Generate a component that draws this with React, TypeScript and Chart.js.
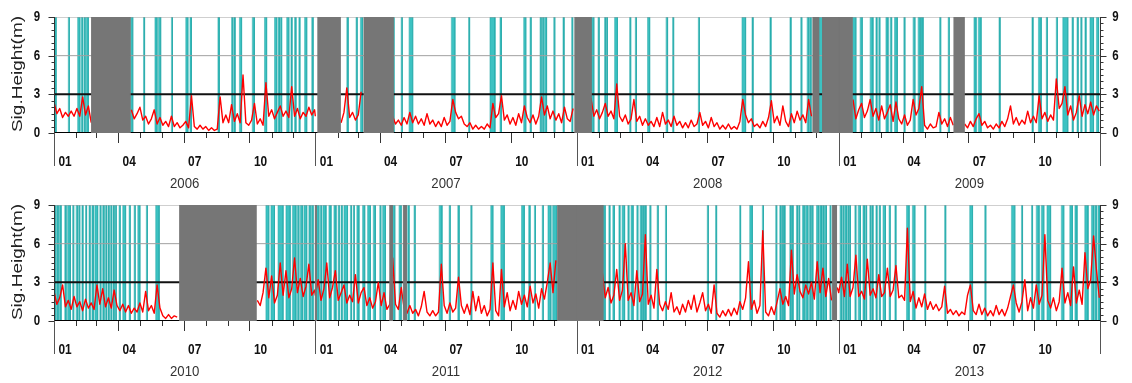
import React, { useEffect, useRef } from "react";
import { Chart, registerables } from "chart.js";

Chart.register(...registerables);

// ---------------- data ----------------
const STEP_DAYS = 4; // readings every 4 days, starting Jan 1 of each year
const Y_MAX = 9;
const yTicks = [0, 3, 6, 9];
const monthLabels = ["01", "04", "07", "10"];
const labelledMonths = [0, 3, 6, 9];
const yTitle = "Sig.Height(m)";
const topYears = [2006, 2007, 2008, 2009];
const bottomYears = [2010, 2011, 2012, 2013];

const _ = null;

const wave2006 = [
  2.4, 1.5, 1.9, 1.2, 1.6, 1.3, 1.7, 1.3, 1.9, 1.3,
  2.8, 1.4, 2.1, 0.8, _, _, _, _, _, _,
  _, _, _, _, _, _, _, 1.8, 1.1, 1.5,
  2.0, 1.0, 1.3, 0.7, 1.1, 1.8, 0.7, 1.2, 0.6, 0.9,
  0.5, 1.3, 0.5, 0.8, 0.4, 0.6, 0.9, 0.4, 2.9, 0.5,
  0.3, 0.6, 0.3, 0.5, 0.2, 0.4, 0.2, 0.3, 2.8, 0.8,
  1.4, 0.8, 2.2, 0.9, 1.5, 0.8, 4.5, 0.8, 0.6, 1.0,
  2.3, 0.7, 1.1, 0.6, 3.9, 1.3, 1.8, 1.1, 1.6, 2.1,
  1.3, 1.7, 1.2, 3.6, 1.3, 1.9, 1.1, 1.6, 1.3, 2.0,
  1.4, 1.8,
];
const wave2007 = [
  1.3, _, _, _, _, _, _, _, _, 0.8,
  1.6, 3.5, 1.2, 1.6, 1.0, 1.4, 3.2, _, _, _,
  _, _, _, _, _, _, _, 1.3, 0.7, 1.0,
  0.6, 1.2, 0.7, 1.6, 0.8, 1.3, 0.7, 1.1, 0.6, 1.5,
  0.7, 1.0, 0.5, 0.9, 0.5, 1.2, 0.6, 0.9, 2.6, 1.6,
  1.1, 1.3, 0.7, 0.5, 0.8, 0.3, 0.6, 0.3, 0.5, 0.3,
  0.7, 0.4, 2.3, 1.2, 1.5, 2.9, 1.0, 1.4, 0.7, 1.2,
  0.6, 1.5, 0.8, 2.1, 1.2, 0.8, 1.4, 0.7, 1.3, 2.8,
  1.4, 2.1, 1.1, 1.7, 1.0, 1.5, 0.8, 2.0, 1.1, 0.9,
  1.9, _,
];
const wave2008 = [
  _, _, _, _, _, 2.7, 1.3, 1.8, 1.1, 1.6,
  2.3, 1.3, 1.7, 1.1, 3.8, 1.3, 0.9, 1.4, 0.7, 1.1,
  2.6, 0.9, 1.3, 0.6, 1.1, 0.6, 0.9, 0.5, 1.2, 0.5,
  1.6, 0.7, 1.0, 0.5, 1.3, 0.6, 0.9, 0.4, 0.8, 0.4,
  1.0, 0.5, 0.7, 1.6, 0.6, 0.9, 0.4, 1.2, 0.5, 0.8,
  0.3, 0.6, 0.3, 0.7, 0.3, 0.5, 0.3, 0.9, 2.6, 1.4,
  0.8, 1.1, 0.5, 0.7, 0.4, 0.9, 0.5, 1.2, 2.5, 0.8,
  1.3, 0.6, 2.1, 0.9, 0.5, 1.5, 0.8, 1.7, 1.0, 1.4,
  0.8, 2.6, 1.3, _, _, _, _, _, _, _,
  _, _,
];
const wave2009 = [
  _, _, _, _, _, 2.6, 1.1, 1.8, 2.3, 1.2,
  1.7, 2.6, 1.3, 1.9, 1.0, 2.1, 1.1, 1.6, 2.2, 0.9,
  2.4, 1.1, 0.7, 1.4, 0.6, 1.0, 2.6, 1.4, 1.9, 3.6,
  0.6, 0.3, 0.7, 0.4, 0.5, 1.6, 0.7, 1.1, 0.5, 1.2,
  0.6, _, _, _, 0.7, 0.4, 0.9, 0.5, 1.1, 1.5,
  0.6, 0.9, 0.4, 0.6, 0.3, 0.7, 0.4, 0.9, 0.5, 1.1,
  2.1, 0.7, 1.2, 0.6, 1.0, 0.7, 1.7, 0.8, 1.3, 0.8,
  2.9, 1.1, 1.6, 0.9, 1.4, 1.0, 4.2, 1.9, 2.3, 3.6,
  1.4, 2.1, 1.0, 1.6, 2.9, 1.3, 2.2, 1.5, 2.4, 1.4,
  2.1, 1.7,
];
const wave2010 = [
  2.3, 1.3, 1.8, 2.8, 1.1, 1.6, 0.9, 1.9, 1.1, 1.5,
  0.8, 1.7, 1.0, 1.4, 0.9, 2.8, 1.3, 2.5, 1.1, 1.8,
  1.0, 2.4, 1.2, 0.8, 1.3, 0.7, 1.2, 0.6, 1.0, 0.7,
  1.4, 0.7, 2.3, 0.8, 1.2, 0.6, 2.8, 1.0, 0.4, 0.2,
  0.5, 0.2, 0.4, 0.3, _, _, _, _, _, _,
  _, _, _, _, _, _, _, _, _, _,
  _, _, _, _, _, _, _, _, _, _,
  _, 1.6, 1.2, 2.2, 4.1, 1.8, 3.5, 1.4, 2.0, 4.5,
  2.0, 3.9, 1.8, 2.5, 4.9, 2.2, 3.3, 1.9, 2.7, 4.4,
  2.0, 2.4,
];
const wave2011 = [
  2.0, 3.2, 1.6, 2.5, 4.5, 1.8, 2.6, 3.9, 1.6, 2.2,
  2.8, 1.4, 2.0, 1.5, 3.6, 1.4, 2.2, 2.6, 1.2, 1.8,
  1.0, 1.5, 3.0, 1.2, 2.2, 0.9, 1.3, 4.9, 1.3, 0.9,
  2.6, 1.0, 0.6, 1.2, 0.6, 0.9, 0.4, 1.1, 2.3, 0.7,
  0.4, 0.8, 0.4, 0.7, 4.4, 1.2, 0.6, 1.4, 0.7, 1.0,
  3.4, 1.2, 0.6, 1.3, 0.5, 2.3, 0.8, 1.9, 0.6, 1.2,
  0.4, 0.9, 4.5, 0.8, 0.4, 4.0, 1.1, 2.2, 0.8, 1.6,
  0.9, 2.3, 1.3, 2.0, 1.1, 2.7, 1.4, 2.1, 1.0, 2.5,
  1.7, 3.0, 4.5, 2.2, 4.7, _, _, _, _, _,
  _, _,
];
const wave2012 = [
  _, _, _, _, _, _, _, _, _, 3.7,
  1.8, 2.6, 1.4, 2.0, 4.0, 1.6, 2.4, 6.0, 1.6, 2.2,
  1.2, 3.9, 1.5, 2.1, 6.7, 1.3, 2.0, 1.0, 4.0, 1.3,
  0.8, 1.5, 0.9, 2.2, 0.7, 1.1, 0.5, 1.3, 0.7, 1.6,
  0.9, 2.0, 0.7, 1.4, 2.2, 0.8, 1.3, 0.6, 2.8, 0.6,
  0.3, 0.8, 0.4, 0.9, 0.4, 1.0, 0.5, 1.5, 0.9, 1.8,
  4.6, 0.9, 1.6, 0.6, 1.2, 7.0, 0.7, 0.4, 1.1, 0.5,
  1.5, 2.5, 1.3, 1.9, 1.2, 5.5, 2.1, 3.6, 2.3, 1.8,
  2.8, 2.1, 3.0, 1.7, 4.6, 2.2, 4.1, 1.9, 3.3, 1.6,
  _, 2.6,
];
const wave2013 = [
  2.2, 3.4, 1.9, 4.4, 1.9, 2.6, 5.1, 1.9, 2.3, 1.7,
  4.8, 2.0, 2.5, 1.8, 3.6, 1.9, 2.2, 4.1, 1.9, 2.4,
  4.3, 1.8, 2.0, 1.6, 7.2, 1.5, 2.3, 1.0, 1.8, 1.1,
  2.1, 0.9, 1.5, 0.9, 1.3, 0.8, 1.1, 2.7, 0.6, 0.9,
  0.5, 0.8, 0.4, 0.7, 0.5, 2.0, 2.8, 0.8, 0.5, 1.3,
  0.5, 1.0, 0.4, 0.8, 0.4, 1.2, 0.5, 0.9, 0.4, 1.0,
  1.9, 2.8, 1.4, 0.7, 1.5, 3.2, 0.8, 1.8, 1.0, 2.8,
  1.3, 2.0, 6.7, 1.6, 1.0, 1.8, 0.8, 1.5, 4.1, 1.4,
  2.2, 1.2, 4.2, 1.4, 2.4, 1.3, 5.3, 2.5, 3.2, 6.6,
  4.0, 1.8,
];

// flagged days (day-of-year ranges)
const cyan2006 = [[0,3],[20,21.5],[33,36],[38,40],[42,43.5],[45,48],[107,110],[125,126.5],[141,144],[146,149],[164,165.5],[184,187],[190,192],[229,231],[248,249.5],[251,253],[259,262],[277,280],[294,297],[308,311],[313,315],[316,318],[325,328],[331,332.5],[336,338],[342,343.5],[350,353],[360,362]];
const cyan2007 = [[44,46],[57,58.5],[63,66],[108,110],[120,121.5],[131,136],[190,195],[214,215.5],[244,251],[258,260],[291,294],[300,301.5],[314,315.5],[317,318.5],[320,323],[333,334.5],[346,347.5],[358,359.5]];
const cyan2008 = [[20,24],[30,31.5],[39,40.5],[41.5,43],[53,57],[74,75.5],[82,83.5],[99,102],[125,127],[134,135.5],[170,171.5],[231,236],[245,246.5],[270,271.5],[298,299.5],[313,314.5],[322,324],[325,327.5],[338,343.5]];
const cyan2009 = [[19,24],[30,33],[44,48],[52,53.5],[56,57.5],[66,69],[72,74],[78,82],[91,92.5],[104,106.5],[111,114],[115,118],[141,142.5],[153,154.5],[189,192],[195,199],[224,225.5],[270,271.5],[279,283],[290,291.5],[304,305.5],[313,320],[326,327.5],[333,334.5],[338,339.5],[344,345.5],[351,356],[360,363]];
const cyan2010 = [[0,2.5],[4,6],[7.5,10],[15,17],[19,23],[26,27.5],[31,33],[34.5,36],[39,40.5],[44,45.5],[49,50.5],[53,55],[57,61],[64,65.5],[68,70],[72,73.5],[75.5,77],[79,80.5],[82.5,84],[85.5,87],[91,92.5],[96,100],[105,106.5],[112,113.5],[117,120],[129,130.5],[142,147],[296,300],[303,308],[313,320],[324,330],[333,338],[340,342],[344,347],[349,353],[356,358],[359.5,362]];
const cyan2011 = [[2,5],[7,8.5],[10.5,15],[19,22],[26,29],[32,33.5],[36,37.5],[40,45],[49,50.5],[53,54.5],[58,61],[66,69],[73,77],[81,84],[90,91.5],[94,98],[107,111],[117,120],[129,131],[138,139.5],[173,177],[187,188.5],[199,201],[217,218.5],[245,248],[259,264],[288,292],[298,300],[306,307.5],[317,318.5],[325,329],[331.5,337]];
const cyan2012 = [[36.5,40],[45,46.5],[50.5,52.8],[59,60.5],[63.5,67],[71.5,73],[76,79],[84,85.5],[88.7,91],[92,94],[95,97],[102,103.5],[112.5,114],[124,125.5],[182.5,184],[194,195.5],[227.7,229],[241.7,245.5],[259.4,261],[278,279.5],[283.7,285.5],[287,288.5],[289.5,291],[297.7,299.5],[300.5,302.4],[307,308.5],[310,311.5],[315.4,318],[319.5,323],[325,327],[328,330],[335,338],[339.5,342],[343,345.5],[347,349],[353.7,355]];
const cyan2013 = [[2,4],[5.5,7],[8.5,11],[12.5,14],[15,16.5],[22.6,24],[27.3,30.5],[34,36],[37.5,39],[43.5,45],[46.5,48],[52,53.5],[56.6,58],[62,65.4],[70.5,72],[78.5,80],[94.7,98.5],[103,106.4],[120,121.5],[148,149.5],[183,187],[204,205.5],[241.3,246],[255.3,256.8],[269.3,270.8],[276,280],[283,286.5],[291,296],[311,314.4],[322.8,326.5],[330,333],[343.7,348.4],[353,356],[357.5,360],[362,365]];

// missing-data periods (day-of-year ranges)
const gray2006 = [[52.5,106]];
const gray2007 = [[3.5,34.5],[68,108.5],[362.5,365]];
const gray2008 = [[0,20],[330,338],[343.5,366]];
const gray2009 = [[0,18.5],[161,175]];
const gray2010 = [[175.5,282]];
const gray2011 = [[0,1.2],[104,107.5],[123,127],[338.5,365]];
const gray2012 = [[0,36.5],[357.5,363]];
const gray2013: number[][] = [];

// ---------------- helpers ----------------
const isLeap = (y: number) => (y % 4 === 0 && y % 100 !== 0) || y % 400 === 0;
const daysInYear = (y: number) => (isLeap(y) ? 366 : 365);
const monthLengths = (y: number) => [31, isLeap(y) ? 29 : 28, 31, 30, 31, 30, 31, 31, 30, 31, 30, 31];

const FONT = '"Liberation Sans", Arial, Helvetica, sans-serif';

function rectPoints(ranges: number[][][], offsets: number[]) {
  const pts: any[] = [];
  ranges.forEach((list, k) =>
    list.forEach(([a, b]) => {
      const o = offsets[k];
      pts.push({ x: o + a, y: 0 }, { x: o + a, y: Y_MAX }, { x: o + b, y: Y_MAX }, { x: o + b, y: 0 }, { x: o + b, y: null });
    })
  );
  return pts;
}

const decorPlugin = {
  id: "decor",
  afterDraw(chart: any, _args: any, opts: any) {
    const { ctx, chartArea: ca } = chart;
    const xs = chart.scales.x;
    const ys = chart.scales.y;
    const yTop = ys.getPixelForValue(Y_MAX);
    const y0 = ys.getPixelForValue(0);
    const px = (v: number) => Math.round(v) + 0.5;
    const seg = (x1: number, y1: number, x2: number, y2: number) => {
      ctx.beginPath();
      ctx.moveTo(x1, y1);
      ctx.lineTo(x2, y2);
      ctx.stroke();
    };
    const text = (s: string, x: number, y: number, font: string, sx: number, color: string) => {
      ctx.save();
      ctx.translate(x, y);
      ctx.scale(sx, 1);
      ctx.font = font;
      ctx.fillStyle = color;
      ctx.textAlign = "center";
      ctx.textBaseline = "middle";
      ctx.fillText(s, 0, 0);
      ctx.restore();
    };
    ctx.save();
    ctx.lineWidth = 1;
    ctx.strokeStyle = "#333";
    const xl = px(xs.getPixelForValue(0));
    const xr = px(xs.getPixelForValue(opts.total));
    seg(xl, yTop, xl, y0);
    seg(xr, yTop, xr, y0);
    for (let v = 0; v <= Y_MAX + 1e-9; v += 0.5) {
      const y = px(ys.getPixelForValue(v));
      const len = yTicks.includes(v) ? 6 : 3;
      seg(xl - len, y, xl, y);
      seg(xr, y, xr + len, y);
    }
    // month / year ticks
    opts.years.forEach((yr: number, k: number) => {
      const o = opts.offsets[k];
      let d = 0;
      monthLengths(yr).forEach((len, m) => {
        const x = px(xs.getPixelForValue(o + d));
        if (m === 0) {
          ctx.strokeStyle = "#555";
          seg(x, y0, x, y0 + 33);
          ctx.strokeStyle = "#333";
        } else {
          seg(x, y0, x, y0 + (m % 3 === 0 ? 10 : 5));
        }
        d += len;
      });
    });
    ctx.strokeStyle = "#555";
    seg(xr, y0, xr, y0 + 33);

    // y tick labels
    yTicks.forEach((v) => {
      const y = ys.getPixelForValue(v);
      text(String(v), ca.left - 17, y, `bold 14px ${FONT}`, 0.82, "#111");
      text(String(v), ca.right + 15.5, y, `bold 14px ${FONT}`, 0.82, "#111");
    });
    // month + year labels
    opts.years.forEach((yr: number, k: number) => {
      const o = opts.offsets[k];
      const ml = monthLengths(yr);
      labelledMonths.forEach((m, j) => {
        let d = 0;
        for (let i = 0; i < m; i++) d += ml[i];
        const x = xs.getPixelForValue(o + d + ml[m] / 2);
        text(monthLabels[j], x, y0 + 29, `bold 14px ${FONT}`, 0.85, "#111");
      });
      const xm = xs.getPixelForValue(o + daysInYear(yr) / 2);
      text(String(yr), xm, y0 + 51, `15px ${FONT}`, 0.88, "#333");
    });
    // axis title
    ctx.save();
    ctx.translate(17.5, (ca.top + ca.bottom) / 2 - 1);
    ctx.rotate(-Math.PI / 2);
    ctx.scale(1, 0.8);
    ctx.font = `19px ${FONT}`;
    ctx.fillStyle = "#222";
    ctx.textAlign = "center";
    ctx.textBaseline = "middle";
    ctx.fillText(yTitle, 0, 0);
    ctx.restore();
    ctx.restore();
  },
};

function makeChart(canvas: HTMLCanvasElement, years: number[], waves: any[][], cyan: number[][][], gray: number[][][], padTop: number, padBottom: number) {
  const offsets: number[] = [];
  let acc = 0;
  years.forEach((y) => {
    offsets.push(acc);
    acc += daysInYear(y);
  });
  const total = acc;
  const wave: any[] = [];
  waves.forEach((arr, k) => arr.forEach((v, i) => wave.push({ x: offsets[k] + i * STEP_DAYS, y: v })));
  const hline = (v: number) => [{ x: 0, y: v }, { x: total, y: v }];
  const GRAY = "#767676";
  return new Chart(canvas, {
    type: "line",
    data: {
      datasets: [
        { label: "missing", data: rectPoints(gray, offsets), borderColor: GRAY, backgroundColor: GRAY, borderWidth: 1, fill: "origin", pointRadius: 0, order: 0 },
        { label: "Hs", data: wave, borderColor: "#ff0000", borderWidth: 1.4, borderJoinStyle: "round", fill: false, pointRadius: 0, order: 1 },
        { label: "zero", data: hline(0), borderColor: "#000", borderWidth: 2, fill: false, pointRadius: 0, order: 2 },
        { label: "threshold", data: hline(3), borderColor: "#111", borderWidth: 2, fill: false, pointRadius: 0, order: 2 },
        { label: "six", data: hline(6), borderColor: "#a0a0a0", borderWidth: 1, fill: false, pointRadius: 0, order: 3 },
        { label: "top", data: hline(9), borderColor: "#a0a0a0", borderWidth: 1, fill: false, pointRadius: 0, order: 3 },
        { label: "flag", data: rectPoints(cyan, offsets), borderColor: "#22aaaa", backgroundColor: "#3cc2c2", borderWidth: 0.6, fill: "origin", pointRadius: 0, order: 4 },
      ] as any,
    },
    options: {
      responsive: false,
      animation: false,
      events: [],
      layout: { padding: { left: 54, right: 32, top: padTop, bottom: padBottom } },
      scales: {
        x: { type: "linear", min: 0, max: total, display: false },
        y: { type: "linear", min: 0, max: Y_MAX, display: false },
      },
      elements: { line: { tension: 0 } },
      plugins: {
        legend: { display: false },
        tooltip: { enabled: false },
        decor: { years, offsets, total },
      } as any,
    },
    plugins: [decorPlugin],
  } as any);
}

export default function App() {
  const topRef = useRef<HTMLCanvasElement>(null);
  const botRef = useRef<HTMLCanvasElement>(null);
  useEffect(() => {
    document.body.style.margin = "0";
    const a = makeChart(topRef.current!, topYears, [wave2006, wave2007, wave2008, wave2009], [cyan2006, cyan2007, cyan2008, cyan2009], [gray2006, gray2007, gray2008, gray2009], 17, 57);
    const b = makeChart(botRef.current!, bottomYears, [wave2010, wave2011, wave2012, wave2013], [cyan2010, cyan2011, cyan2012, cyan2013], [gray2010, gray2011, gray2012, gray2013], 15, 62);
    return () => {
      a.destroy();
      b.destroy();
    };
  }, []);
  return (
    <div style={{ width: 1132, height: 383, background: "#fff" }}>
      <canvas ref={topRef} width={1132} height={190} style={{ display: "block" }} />
      <canvas ref={botRef} width={1132} height={193} style={{ display: "block" }} />
    </div>
  );
}
